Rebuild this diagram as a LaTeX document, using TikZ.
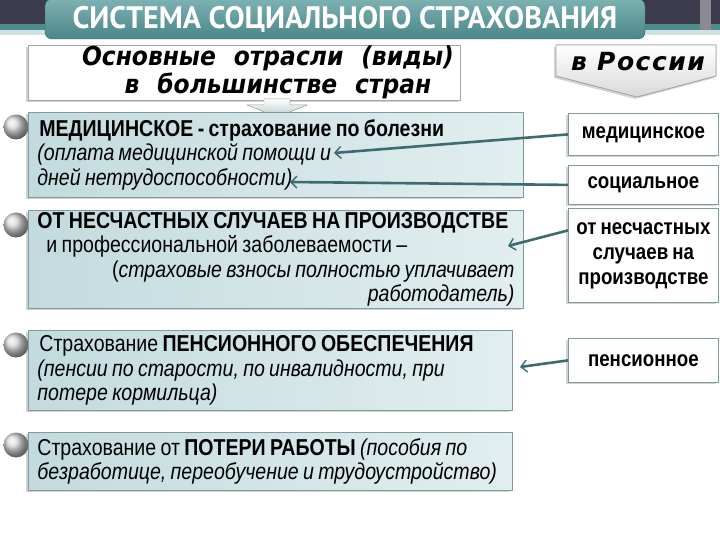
\documentclass[tikz,border=0pt]{standalone}
\usepackage{fontspec}
\setmainfont{Liberation Sans}[FakeStretch=0.85,WordSpace=0.8]
\newfontfamily\titlefont{PT Sans}[FakeStretch=0.97]
\newfontfamily\headfont{DejaVu Sans Condensed}[WordSpace=2.2]
\newfontfamily\rusfont{DejaVu Sans}[LetterSpace=6]
\usetikzlibrary{positioning,arrows.meta,shadows}

\definecolor{barDark}{HTML}{3C3B4E}
\definecolor{barTeal}{HTML}{4E8C8C}
\definecolor{barLight}{HTML}{CFE2E2}
\definecolor{bannerTop}{HTML}{7DB1B2}
\definecolor{bannerBot}{HTML}{4A8688}
\definecolor{boxLeft}{HTML}{C3DBDE}
\definecolor{boxRight}{HTML}{E2EEEF}
\definecolor{frameGray}{HTML}{7F9A9C}
\definecolor{arrowTeal}{HTML}{3D6C70}

\tikzset{
  softshadow/.style={drop shadow={shadow xshift=-2pt,shadow yshift=-2pt,opacity=.35}},
  kindbox/.style={draw=frameGray, line width=.8pt, left color=boxLeft, right color=boxRight,
    anchor=north west, inner xsep=9pt, inner ysep=0pt, align=flush left,
    font=\fontsize{23}{24.5}\selectfont, softshadow},
  rusbox/.style={draw=frameGray, line width=.8pt, fill=white, anchor=north west,
    minimum width=150pt, text width=140pt, inner sep=0pt, align=flush center,
    font=\bfseries\fontsize{22}{25}\selectfont, softshadow},
  bullet/.style={circle, minimum size=25pt, inner sep=0pt, ball color=gray!30},
  link/.style={draw=arrowTeal, line width=2.6pt,
    -{Straight Barb[length=6pt,width=12pt,line width=1.4pt]}}
}

\begin{document}
\begin{tikzpicture}[x=1pt,y=-1pt]
\useasboundingbox (0,0) rectangle (720,540);
% top bar
\fill[barDark] (0,0) rectangle (720,24);
\fill[barTeal] (0,24) rectangle (720,30);
\fill[barLight] (0,30) rectangle (720,35);
\fill[barDark!60!white] (700,0) rectangle (711,30);

% title banner
\node[draw=bannerBot!70!black, rounded corners=7pt, top color=bannerTop, bottom color=bannerBot,
  minimum width=600pt, minimum height=40pt, text=white,
  font=\titlefont\bfseries\fontsize{31}{32}\selectfont] (title) at (345,19) {СИСТЕМА СОЦИАЛЬНОГО СТРАХОВАНИЯ};

% heading boxes
\node[draw=gray!70, line width=.8pt, fill=white, minimum width=432pt, minimum height=55pt,
  softshadow] (head) at (244,72.5) {};
\node[align=center, font=\headfont\bfseries\itshape\fontsize{26}{28}\selectfont] (headtxt) at (268,72)
  {Основные отрасли (виды)\\\hspace*{20pt}в большинстве стран};
\filldraw[draw=gray!70, top color=white, bottom color=boxLeft!80!gray]
  (264,99) -- (290,99) -- (290,105) -- (307,105) -- (277,117) -- (247,105) -- (264,105) -- cycle;

\filldraw[draw=gray!70, line width=.8pt, top color=white, bottom color=gray!30, softshadow]
  (556,45) -- (716,45) -- (716,76) -- (637,97) -- (556,76) -- cycle;
\node[font=\rusfont\bfseries\itshape\fontsize{25}{26}\selectfont] (rus) at (638,62) {в России};

% bullets
\foreach \n/\y in {1/127,2/225,3/345,4/445}
  \node[bullet] (ball\n) at (16,\y) {};

% kinds of insurance
\node[kindbox, minimum width=495pt, minimum height=85pt, text width=477pt] (med) at (28,112)
  {\hspace*{2pt}{\bfseries МЕДИЦИНСКОЕ - страхование по болезни}\\
   {\itshape(оплата медицинской помощи и\\
   дней нетрудоспособности)}};
\node[kindbox, minimum width=495pt, minimum height=98pt, text width=477pt] (acc) at (28,210)
  {{\bfseries ОТ НЕСЧАСТНЫХ СЛУЧАЕВ НА ПРОИЗВОДСТВЕ}\\
   \hspace*{9pt}и профессиональной заболеваемости –\\
   \hspace*{\fill}(\textit{страховые взносы полностью уплачивает}\\
   \hspace*{\fill}\textit{работодатель)}};
\node[kindbox, minimum width=484pt, minimum height=80pt, text width=466pt] (pen) at (28,330)
  {\hspace*{2pt}Страхование {\bfseries ПЕНСИОННОГО ОБЕСПЕЧЕНИЯ}\\
   {\itshape(пенсии по старости, по инвалидности, при\\
   потере кормильца)}};
\node[kindbox, minimum width=484pt, minimum height=58pt, text width=466pt] (job) at (28,432)
  {Страхование от {\bfseries ПОТЕРИ РАБОТЫ} {\itshape(пособия по\\
   безработице, переобучение и трудоустройство)}};

% in Russia
\node[rusbox, minimum height=42pt] (rmed) at (568,113) {медицинское};
\node[rusbox, minimum height=39pt] (rsoc) at (568,165) {социальное};
\node[rusbox, minimum height=94pt] (racc) at (568,208) {от несчастных\\случаев на\\производстве};
\node[rusbox, minimum height=44pt] (rpen) at (568,338) {пенсионное};

\coordinate (tipMed) at (334,153);
\coordinate (tipSoc) at (290,182);
\coordinate (tipAcc) at (508,246);
\coordinate (tipPen) at (520,367);

\draw[link] (rmed.west) -- (tipMed);
\draw[link] (rsoc.west) -- (tipSoc);
\draw[link] ([yshift=25pt]racc.west) -- (tipAcc);
\draw[link] (rpen.west) -- (tipPen);
\end{tikzpicture}
\end{document}
